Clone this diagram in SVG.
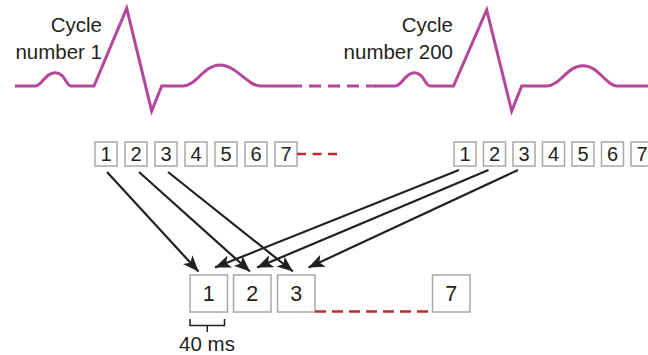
<svg xmlns="http://www.w3.org/2000/svg" width="648" height="355" viewBox="0 0 648 355">
<defs>
<style>
.ecg{fill:none;stroke:#b5479b;stroke-width:3;stroke-linejoin:miter;stroke-miterlimit:20}
.lbl{font-family:"Liberation Sans",Arial,sans-serif;font-size:20.5px;fill:#231f20}
.box{fill:#fff;stroke:#a7a7a7;stroke-width:1.5}
.tn{font-family:"Liberation Sans",Arial,sans-serif;font-size:20px;fill:#231f20;text-anchor:middle}
.bn{font-family:"Liberation Sans",Arial,sans-serif;font-size:21.5px;fill:#231f20;text-anchor:middle}
.arr{fill:none;stroke:#231f20;stroke-width:2.2;marker-end:url(#ah)}
.red{fill:none;stroke:#c1272d;stroke-width:2.5}
</style>
<marker id="ah" markerUnits="userSpaceOnUse" markerWidth="18" markerHeight="15" refX="16" refY="6.5" orient="auto">
<path d="M0,0 L16,6.5 L0,13 L4,6.5 Z" fill="#231f20"/>
</marker>
</defs>

<g id="ecg">
<path class="ecg" d="M15,86 L35,86 C42,86 45,72.7 55,72.7 C65,72.7 66,86 71,86 L94,86 L126.7,8.3 L151.7,111 L161.7,86 L183,86 C196,86 204,65 220,65 C236,65 248,86 260,86 L290,86"/>
<path class="ecg" d="M290,86 L376,86" stroke-dasharray="12 7"/>
<path class="ecg" d="M375,86 L395,86 C402,86 405,72.7 414,72.7 C424,72.7 425,86 430,86 L453.5,86 L486.7,10 L511.7,111 L521.7,86 L546.7,86 C560,86 567,65.7 583,65.7 C599,65.7 606,86 617,86 L648,86"/>
</g>

<g id="label-cycle1">
<text class="lbl" x="102" y="31.5" text-anchor="end">Cycle</text>
<text class="lbl" x="102" y="58.5" text-anchor="end">number 1</text>
</g>
<g id="label-cycle200">
<text class="lbl" x="453" y="31.5" text-anchor="end">Cycle</text>
<text class="lbl" x="453" y="58.5" text-anchor="end">number 200</text>
</g>

<g id="top-left-frames">
<rect class="box" x="95" y="142" width="22" height="24"/><text class="tn" x="106" y="161.3">1</text>
<rect class="box" x="125" y="142" width="22" height="24"/><text class="tn" x="136" y="161.3">2</text>
<rect class="box" x="155" y="142" width="22" height="24"/><text class="tn" x="166" y="161.3">3</text>
<rect class="box" x="185" y="142" width="22" height="24"/><text class="tn" x="196" y="161.3">4</text>
<rect class="box" x="215" y="142" width="22" height="24"/><text class="tn" x="226" y="161.3">5</text>
<rect class="box" x="245" y="142" width="22" height="24"/><text class="tn" x="256" y="161.3">6</text>
<rect class="box" x="275" y="142" width="22" height="24"/><text class="tn" x="286" y="161.3">7</text>
</g>

<g id="top-right-frames">
<rect class="box" x="454" y="142" width="22" height="24"/><text class="tn" x="465" y="161.3">1</text>
<rect class="box" x="483.5" y="142" width="22" height="24"/><text class="tn" x="494.5" y="161.3">2</text>
<rect class="box" x="513" y="142" width="22" height="24"/><text class="tn" x="524" y="161.3">3</text>
<rect class="box" x="542.5" y="142" width="22" height="24"/><text class="tn" x="553.5" y="161.3">4</text>
<rect class="box" x="572" y="142" width="22" height="24"/><text class="tn" x="583" y="161.3">5</text>
<rect class="box" x="601.5" y="142" width="22" height="24"/><text class="tn" x="612.5" y="161.3">6</text>
<rect class="box" x="631" y="142" width="22" height="24"/><text class="tn" x="642" y="161.3">7</text>
</g>

<g id="bottom-frames">
<rect class="box" x="190" y="275" width="37.5" height="37"/><text class="bn" x="208.8" y="301">1</text>
<rect class="box" x="233.5" y="275" width="37.5" height="37"/><text class="bn" x="252.3" y="301">2</text>
<rect class="box" x="277.5" y="275" width="37.5" height="37"/><text class="bn" x="296.3" y="301">3</text>
<rect class="box" x="432.5" y="275" width="37.5" height="37"/><text class="bn" x="451.3" y="301">7</text>
</g>

<g id="connectors">
<path class="red" d="M297,154 L340,154" stroke-dasharray="9 6.5"/>
<path class="red" d="M315,311.5 L432.5,311.5" stroke-dasharray="11 6"/>
<path class="arr" d="M107,172 L198.5,271.5"/>
<path class="arr" d="M139,172 L250,271.5"/>
<path class="arr" d="M168,172 L293,271.5"/>
<path class="arr" d="M459,170 L215,267.5"/>
<path class="arr" d="M488.5,170 L257,267.5"/>
<path class="arr" d="M518,170 L308.5,267.5"/>
</g>

<g id="scale">
<path d="M190,319 L190,325.5 L224.5,325.5 L224.5,319 M207.3,325.5 L207.3,332" fill="none" stroke="#231f20" stroke-width="1.5"/>
<text class="lbl" x="207" y="350.5" text-anchor="middle">40 ms</text>
</g>
</svg>
